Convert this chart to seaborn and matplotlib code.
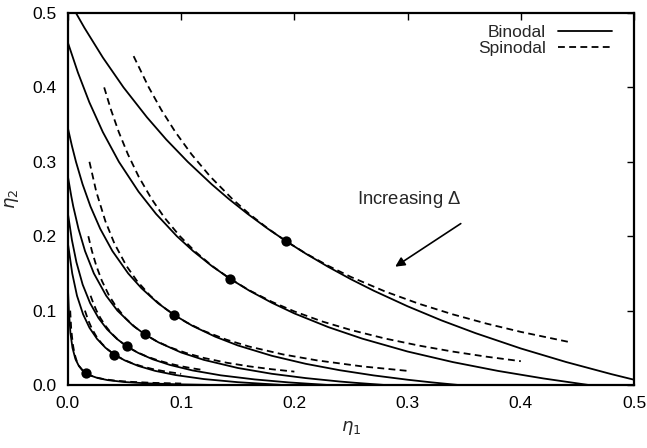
import pandas as pd
import matplotlib
matplotlib.use("Agg")
import matplotlib.pyplot as plt
import seaborn as sns
from matplotlib.lines import Line2D

# ---- data (eta1, eta2); each curve listed point by point ----
bin1_x = [0.0, 0.0071, 0.0146, 0.0309, 0.0491, 0.0697, 0.0868, 0.1058, 0.1268, 0.1421, 0.1587, 0.1766,
          0.193, 0.21, 0.23, 0.25, 0.27, 0.3, 0.33, 0.36, 0.4, 0.44, 0.48, 0.5, 0.52]
bin1_y = [0.52, 0.5, 0.48, 0.44, 0.4, 0.36, 0.33, 0.3, 0.27, 0.25, 0.23, 0.21,
          0.193, 0.1766, 0.1587, 0.1421, 0.1268, 0.1058, 0.0868, 0.0697, 0.0491, 0.0309, 0.0146, 0.0071, 0.0]
bin2_x = [0.0, 0.0088, 0.0189, 0.0308, 0.045, 0.0623, 0.0778, 0.0962, 0.1106, 0.127,
          0.143, 0.16, 0.18, 0.2, 0.23, 0.26, 0.3, 0.34, 0.38, 0.42, 0.46]
bin2_y = [0.46, 0.42, 0.38, 0.34, 0.3, 0.26, 0.23, 0.2, 0.18, 0.16,
          0.143, 0.127, 0.1106, 0.0962, 0.0778, 0.0623, 0.045, 0.0308, 0.0189, 0.0088, 0.0]
bin3_x = [0.0, 0.0035, 0.0071, 0.0129, 0.0199, 0.0285, 0.0393, 0.0532, 0.065, 0.0795,
          0.094, 0.11, 0.13, 0.15, 0.18, 0.21, 0.24, 0.27, 0.3, 0.3215, 0.345]
bin3_y = [0.345, 0.3215, 0.3, 0.27, 0.24, 0.21, 0.18, 0.15, 0.13, 0.11,
          0.094, 0.0795, 0.065, 0.0532, 0.0393, 0.0285, 0.0199, 0.0129, 0.0071, 0.0035, 0.0]
bin4_x = [0.0, 0.003, 0.0047, 0.0093, 0.0151, 0.0229, 0.0338, 0.0437, 0.0573,
          0.068, 0.08, 0.1, 0.12, 0.15, 0.18, 0.21, 0.24, 0.2534, 0.28]
bin4_y = [0.28, 0.2534, 0.24, 0.21, 0.18, 0.15, 0.12, 0.1, 0.08,
          0.068, 0.0573, 0.0437, 0.0338, 0.0229, 0.0151, 0.0093, 0.0047, 0.003, 0.0]
bin5_x = [0.0, 0.0035, 0.0075, 0.013, 0.0196, 0.027, 0.0345, 0.0432,
          0.052, 0.062, 0.075, 0.09, 0.11, 0.135, 0.165, 0.195, 0.23]
bin5_y = [0.23, 0.195, 0.165, 0.135, 0.11, 0.09, 0.075, 0.062,
          0.052, 0.0432, 0.0345, 0.027, 0.0196, 0.013, 0.0075, 0.0035, 0.0]
bin6_x = [0.0, 0.0038, 0.008, 0.0134, 0.019, 0.0257, 0.0332,
          0.041, 0.05, 0.062, 0.077, 0.095, 0.12, 0.15, 0.19]
bin6_y = [0.19, 0.15, 0.12, 0.095, 0.077, 0.062, 0.05,
          0.041, 0.0332, 0.0257, 0.019, 0.0134, 0.008, 0.0038, 0.0]
bin7_x = [0.0, 0.0008, 0.0022, 0.004, 0.0066, 0.0095, 0.0127,
          0.016, 0.02, 0.026, 0.035, 0.05, 0.07, 0.1, 0.13]
bin7_y = [0.13, 0.1, 0.07, 0.05, 0.035, 0.026, 0.02,
          0.016, 0.0127, 0.0095, 0.0066, 0.004, 0.0022, 0.0008, 0.0]

spi1_x = [0.058, 0.0714, 0.0824, 0.0949, 0.1092, 0.1258, 0.1452, 0.1601, 0.1769,
          0.193, 0.21, 0.23, 0.25, 0.28, 0.31, 0.34, 0.37, 0.4, 0.442]
spi1_y = [0.442, 0.4, 0.37, 0.34, 0.31, 0.28, 0.25, 0.23, 0.21,
          0.193, 0.1769, 0.1601, 0.1452, 0.1258, 0.1092, 0.0949, 0.0824, 0.0714, 0.058]
spi2_x = [0.032, 0.038, 0.0449, 0.053, 0.0625, 0.0739, 0.0852, 0.0989, 0.1119, 0.1274,
          0.143, 0.16, 0.18, 0.2, 0.225, 0.25, 0.28, 0.31, 0.34, 0.37, 0.4]
spi2_y = [0.4, 0.37, 0.34, 0.31, 0.28, 0.25, 0.225, 0.2, 0.18, 0.16,
          0.143, 0.1274, 0.1119, 0.0989, 0.0852, 0.0739, 0.0625, 0.053, 0.0449, 0.038, 0.032]
spi3_x = [0.019, 0.025, 0.0331, 0.0411, 0.0517, 0.0609, 0.0727, 0.0839,
          0.094, 0.105, 0.12, 0.14, 0.16, 0.19, 0.22, 0.26, 0.3]
spi3_y = [0.3, 0.26, 0.22, 0.19, 0.16, 0.14, 0.12, 0.105,
          0.094, 0.0839, 0.0727, 0.0609, 0.0517, 0.0411, 0.0331, 0.025, 0.019]
spi4_x = [0.018, 0.0212, 0.0251, 0.03, 0.0364, 0.0427, 0.0507, 0.0591,
          0.068, 0.078, 0.09, 0.105, 0.12, 0.14, 0.16, 0.18, 0.2]
spi4_y = [0.2, 0.18, 0.16, 0.14, 0.12, 0.105, 0.09, 0.078,
          0.068, 0.0591, 0.0507, 0.0427, 0.0364, 0.03, 0.0251, 0.0212, 0.018]
spi5_x = [0.02, 0.0224, 0.0252, 0.0287, 0.0329, 0.0381, 0.0449,
          0.052, 0.06, 0.07, 0.08, 0.09, 0.1, 0.11, 0.12]
spi5_y = [0.12, 0.11, 0.1, 0.09, 0.08, 0.07, 0.06,
          0.052, 0.0449, 0.0381, 0.0329, 0.0287, 0.0252, 0.0224, 0.02]
spi6_x = [0.015, 0.0179, 0.0214, 0.0252, 0.0297, 0.0349,
          0.041, 0.048, 0.056, 0.065, 0.075, 0.087, 0.1]
spi6_y = [0.1, 0.087, 0.075, 0.065, 0.056, 0.048,
          0.041, 0.0349, 0.0297, 0.0252, 0.0214, 0.0179, 0.015]
spi7_x = [0.002, 0.0029, 0.0043, 0.0058, 0.0078, 0.0101, 0.0128,
          0.016, 0.02, 0.025, 0.032, 0.042, 0.055, 0.075, 0.1]
spi7_y = [0.1, 0.075, 0.055, 0.042, 0.032, 0.025, 0.02,
          0.016, 0.0128, 0.0101, 0.0078, 0.0058, 0.0043, 0.0029, 0.002]

crit_x = [0.193, 0.143, 0.094, 0.068, 0.052, 0.041, 0.016]
crit_y = [0.193, 0.143, 0.094, 0.068, 0.052, 0.041, 0.016]

x_ticks = [0.0, 0.1, 0.2, 0.3, 0.4, 0.5]
y_ticks = [0.0, 0.1, 0.2, 0.3, 0.4, 0.5]

binodals = [(bin1_x, bin1_y), (bin2_x, bin2_y), (bin3_x, bin3_y), (bin4_x, bin4_y),
            (bin5_x, bin5_y), (bin6_x, bin6_y), (bin7_x, bin7_y)]
spinodals = [(spi1_x, spi1_y), (spi2_x, spi2_y), (spi3_x, spi3_y), (spi4_x, spi4_y),
             (spi5_x, spi5_y), (spi6_x, spi6_y), (spi7_x, spi7_y)]

rows = []
for i, (xs, ys) in enumerate(binodals):
    for a, b in zip(xs, ys):
        rows.append(dict(eta1=a, eta2=b, curve=f"b{i}", kind="Binodal"))
for i, (xs, ys) in enumerate(spinodals):
    for a, b in zip(xs, ys):
        rows.append(dict(eta1=a, eta2=b, curve=f"s{i}", kind="Spinodal"))
df = pd.DataFrame(rows)
crit = pd.DataFrame(dict(eta1=crit_x, eta2=crit_y))

sns.set_theme(style="white")
plt.rcParams['font.family'] = ['Liberation Sans', 'DejaVu Sans']
plt.rcParams['mathtext.fontset'] = 'custom'
plt.rcParams['mathtext.rm'] = 'Liberation Sans'
plt.rcParams['mathtext.it'] = 'Liberation Sans:italic'

fig = plt.figure(figsize=(6.47, 4.48), dpi=100)
ax = fig.add_axes([0.105, 0.1406, 0.875, 0.8304])

sns.lineplot(data=df, x="eta1", y="eta2", units="curve", style="kind",
             estimator=None, sort=False, color="black", linewidth=1.3,
             dashes={"Binodal": "", "Spinodal": (3.8, 2.4)}, legend=False, ax=ax)
sns.scatterplot(data=crit, x="eta1", y="eta2", color="black", s=55,
                edgecolor="black", linewidth=0, zorder=5, ax=ax, legend=False)

ax.set_xlim(0, 0.5)
ax.set_ylim(0, 0.5)
ax.set_xticks(x_ticks)
ax.set_yticks(y_ticks)
ax.set_xticklabels([f"{v:.1f}" for v in x_ticks])
ax.set_yticklabels([f"{v:.1f}" for v in y_ticks])
ax.tick_params(direction="in", length=5, width=1, top=True, right=True,
               labelsize=12.5, colors="black", pad=8)
for sp in ax.spines.values():
    sp.set_color("black")
    sp.set_linewidth(1.6)
ax.set_xlabel(r"$\eta_1$", fontsize=13, labelpad=6, math_fontfamily="dejavusans")
ax.set_ylabel(r"$\eta_2$", fontsize=13, labelpad=8, math_fontfamily="dejavusans")

handles = [Line2D([], [], color="black", lw=1.3, label="Binodal"),
           Line2D([], [], color="black", lw=1.3, ls=(0, (3.8, 2.4)), label="Spinodal")]
ax.legend(handles=handles, loc="upper right", bbox_to_anchor=(0.982, 1.0),
          frameon=False, markerfirst=False, fontsize=12.5, handlelength=3.1,
          borderaxespad=0.3, labelspacing=0.05, handletextpad=0.7)

ax.text(0.255, 0.249, r"Increasing $\mathit{\Delta}$", fontsize=13.3, va="center", ha="left")
ax.annotate("", xy=(0.287, 0.157), xytext=(0.349, 0.219),
            arrowprops=dict(arrowstyle="-|>", color="black", lw=1.2,
                            mutation_scale=14))

fig.savefig("out.png", dpi=100)
